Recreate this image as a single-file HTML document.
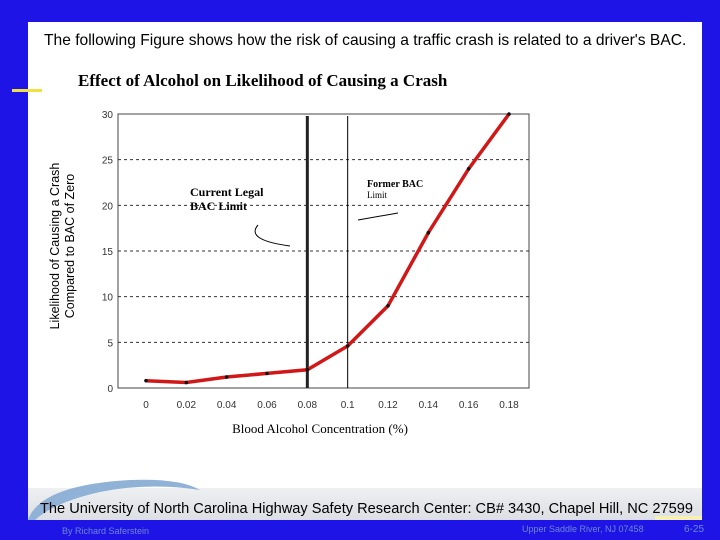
<!DOCTYPE html>
<html><head><meta charset="utf-8"><style>
body{margin:0;width:720px;height:540px;background:#1e14e6;position:relative;overflow:hidden;font-family:"Liberation Sans",sans-serif}
#panel{position:absolute;left:28px;top:22px;width:674px;height:498px;background:#fff}
#band{position:absolute;left:28px;top:488px;width:674px;height:32px;background:linear-gradient(#eef0f2,#dcdfe3)}
</style></head><body>
<div id="panel"></div>
<div id="band"></div>
<div style="position:absolute;left:12px;top:89px;width:30px;height:3px;background:#f0e040"></div>
<div style="position:absolute;left:655px;top:516px;width:47px;height:4px;background:#f8f0b0"></div>
<svg width="720" height="540" style="position:absolute;left:0;top:0" font-family="Liberation Serif, serif">
<path d="M28,520 Q40,485 130,480 Q180,478 200,490 Q150,482 100,492 Q55,502 35,520 Z" fill="#8fb2d6"/>
<text x="44" y="45" font-family="Liberation Sans, sans-serif" font-size="15.6" fill="#000">The following Figure shows how the risk of causing a traffic crash is related to a driver's BAC.</text>
<text x="78" y="86" font-size="17" font-weight="bold">Effect of Alcohol on Likelihood of Causing a Crash</text>
<text transform="translate(59,246) rotate(-90)" text-anchor="middle" font-family="Liberation Sans, sans-serif" font-size="12.5"><tspan x="0" dy="0">Likelihood of Causing a Crash</tspan><tspan x="0" dy="15">Compared to BAC of Zero</tspan></text>
<text x="320" y="433" text-anchor="middle" font-size="13">Blood Alcohol Concentration (%)</text>
<g id="chart"></g>
<text x="190" y="196" font-size="12" font-weight="bold">Current Legal</text>
<text x="190" y="210" font-size="12" font-weight="bold">BAC Limit</text>
<path d="M258,225 Q245,240 290,246" fill="none" stroke="#000" stroke-width="1"/>
<text x="367" y="187" font-size="10" font-weight="bold">Former BAC</text>
<text x="367" y="198" font-size="9">Limit</text>
<path d="M398,213 L358,220" stroke="#000" stroke-width="1"/>
<text x="40" y="513" font-family="Liberation Sans, sans-serif" font-size="14.6">The University of North Carolina Highway Safety Research Center: CB# 3430, Chapel Hill, NC 27599</text>
<text x="62" y="534" font-family="Liberation Sans, sans-serif" font-size="9" fill="#6f86d8">By Richard Saferstein</text>
<text x="522" y="532" font-family="Liberation Sans, sans-serif" font-size="9" fill="#6f86d8">Upper Saddle River, NJ 07458</text>
<text x="684" y="532" font-family="Liberation Sans, sans-serif" font-size="10" fill="#6f86d8">6-25</text>
</svg>
<div style="position:absolute;left:0;top:520px;width:720px;height:20px;background:#1e14e6;z-index:-0"></div>
<svg width="720" height="20" style="position:absolute;left:0;top:520px">
<text x="62" y="14" font-family="Liberation Sans, sans-serif" font-size="9" fill="#6f86d8">By Richard Saferstein</text>
<text x="522" y="12" font-family="Liberation Sans, sans-serif" font-size="9" fill="#6f86d8">Upper Saddle River, NJ 07458</text>
<text x="684" y="12" font-family="Liberation Sans, sans-serif" font-size="10" fill="#6f86d8">6-25</text>
</svg>
<script>
const xCats=[0,0.02,0.04,0.06,0.08,0.1,0.12,0.14,0.16,0.18];
const xLabels=["0","0.02","0.04","0.06","0.08","0.1","0.12","0.14","0.16","0.18"];
const riskValues=[0.8,0.6,1.2,1.6,2,4.6,9,17,24,30];
const yTicks=[0,5,10,15,20,25,30];
const limits=[0.08,0.1];
const L=118,R=529,T=114,B=388;
const xs=v=>146+(v/0.18)*(509-146);
const ys=v=>B-(v/30)*(B-T);
const g=document.getElementById('chart');
const NS='http://www.w3.org/2000/svg';
function mk(t,a){const e=document.createElementNS(NS,t);for(const k in a)e.setAttribute(k,a[k]);g.appendChild(e);return e;}
let e=mk('rect',{x:L,y:T,width:R-L,height:B-T,fill:'none',stroke:'#444'});


yTicks.forEach(t=>{
  if(t>0&&t<30){let l=mk('line',{x1:L,x2:R,y1:ys(t),y2:ys(t),stroke:'#333','stroke-dasharray':'3,3'});
  
  }
  let tx=mk('text',{x:113,y:ys(t)+4,'text-anchor':'end','font-family':'Liberation Sans, sans-serif','font-size':10,fill:'#333'});
  tx.textContent=t;
  
  
});
xCats.forEach((c,i)=>{
  let tx=mk('text',{x:xs(c),y:408,'text-anchor':'middle','font-family':'Liberation Sans, sans-serif','font-size':10,fill:'#333'});
  tx.textContent=xLabels[i];
  
  
});
limits.forEach((v,i)=>{
  let l=mk('line',{x1:xs(v),x2:xs(v),y1:116,y2:B,stroke:i==0?'#222':'#000','stroke-width':i==0?3:1});
  
  
});
let p=mk('polyline',{points:xCats.map((c,i)=>xs(c)+','+ys(riskValues[i])).join(' '),fill:'none',stroke:'#d01818','stroke-width':3.5});


xCats.forEach((c,i)=>{
  let d=mk('circle',{cx:xs(c),cy:ys(riskValues[i]),r:1.8,fill:'#111'});
  
  
});
</script>
</body></html>
